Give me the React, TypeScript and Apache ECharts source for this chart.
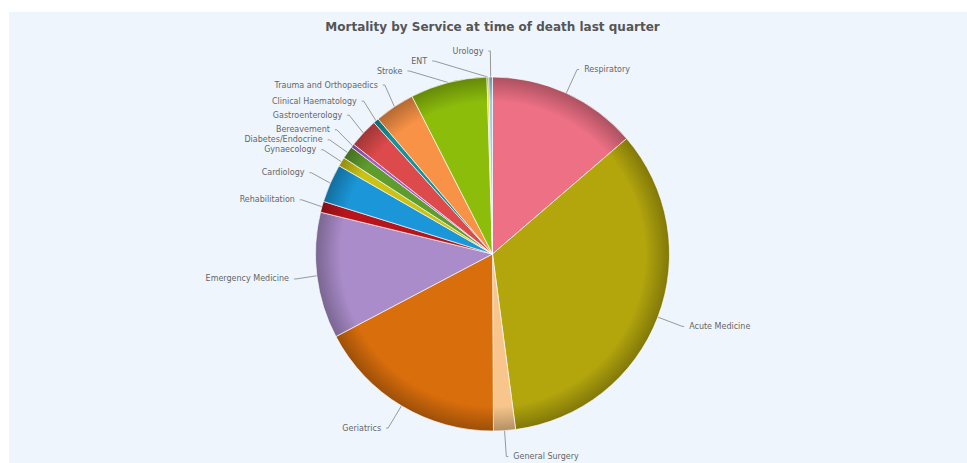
import React, { useEffect, useRef } from "react";
import * as echarts from "echarts";

const titleText = "Mortality by Service at time of death last quarter";

const services = [
  "Respiratory",
  "Acute Medicine",
  "General Surgery",
  "Geriatrics",
  "Emergency Medicine",
  "Rehabilitation",
  "Cardiology",
  "Gynaecology",
  "Diabetes/Endocrine",
  "Bereavement",
  "Gastroenterology",
  "Clinical Haematology",
  "Trauma and Orthopaedics",
  "Stroke",
  "ENT",
  "Urology",
];

const deaths = [82, 205, 12, 104, 69, 6, 21, 5, 7, 2, 16, 3, 22, 42, 1, 2];

const sliceColors = [
  "#ee7085",
  "#b3a60d",
  "#f8c68c",
  "#d96e0c",
  "#a98cc9",
  "#b8141c",
  "#1b97d9",
  "#cbc215",
  "#5f9c2e",
  "#a35cc2",
  "#dd4a4b",
  "#13939b",
  "#f89246",
  "#8cbd0b",
  "#e9d021",
  "#9fc9f0",
];

const CX = 483.5;
const CY = 242;
const R = 177;

function shade(hex: string, f: number): string {
  const n = parseInt(hex.slice(1), 16);
  const r = Math.round(((n >> 16) & 255) * f);
  const g = Math.round(((n >> 8) & 255) * f);
  const b = Math.round((n & 255) * f);
  return `rgb(${r},${g},${b})`;
}

export default function App() {
  const ref = useRef<HTMLDivElement>(null);
  useEffect(() => {
    if (!ref.current) return;
    const chart = echarts.init(ref.current, null, { renderer: "svg" });
    const data = services.map((name, i) => ({
      name,
      value: deaths[i],
      itemStyle: {
        color: {
          type: "radial",
          x: CX,
          y: CY,
          r: R,
          global: true,
          colorStops: [
            { offset: 0, color: sliceColors[i] },
            { offset: 0.86, color: sliceColors[i] },
            { offset: 1, color: shade(sliceColors[i], 0.72) },
          ],
        },
      },
    }));
    chart.setOption({
      animation: false,
      backgroundColor: "#eef5fd",
      graphic: [
        {
          type: "text",
          x: CX,
          y: 15,
          style: {
            text: titleText,
            textAlign: "center",
            textVerticalAlign: "middle",
            fontFamily: "DejaVu Sans",
            fontSize: 12,
            fontWeight: "bold",
            fill: "#555555",
          },
        },
      ],
      series: [
        {
          type: "pie",
          center: [CX, CY],
          radius: R,
          startAngle: 90,
          clockwise: true,
          data,
          itemStyle: {
            borderColor: "rgba(255,255,255,0.8)",
            borderWidth: 0.8,
          },
          label: {
            show: true,
            fontFamily: "DejaVu Sans",
            fontSize: 8,
            color: "#666666",
          },
          labelLine: {
            show: true,
            length: 26,
            length2: 2,
            lineStyle: { color: "#999999", width: 1 },
          },
          emphasis: { disabled: true },
        },
      ],
    });
    return () => chart.dispose();
  }, []);
  return (
    <div
      style={{
        position: "absolute",
        left: 0,
        top: 0,
        width: 967,
        height: 463,
        background: "#ffffff",
      }}
    >
      <div
        ref={ref}
        style={{ position: "absolute", left: 9, top: 12, width: 958, height: 451 }}
      />
    </div>
  );
}
